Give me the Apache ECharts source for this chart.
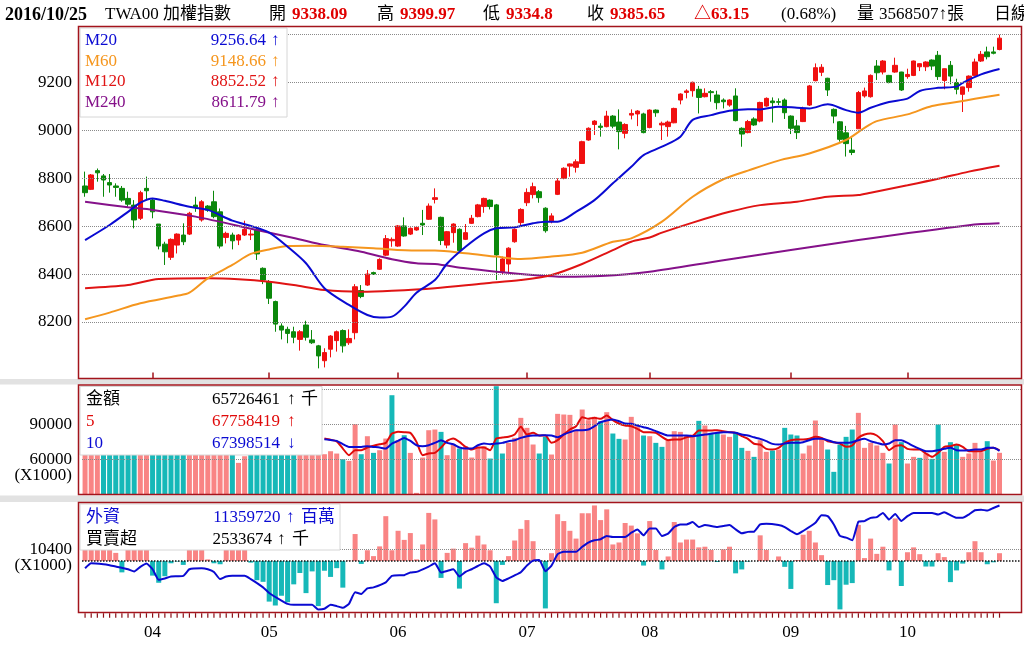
<!DOCTYPE html>
<html><head><meta charset="utf-8">
<script src="https://cdn.jsdelivr.net/npm/echarts@6/dist/echarts.min.js"></script>
<style>html,body{margin:0;padding:0;background:#fff}#c{width:1024px;height:662px}</style>
</head><body><div id="c"></div>
<script>
// ---- trading days (2016) ----
const d03=[17,18,21,22,23,24,25,28,29,30,31];
const d04=[1,6,7,8,11,12,13,14,15,18,19,20,21,22,25,26,27,28,29];
const d05=[3,4,5,6,9,10,11,12,13,16,17,18,19,20,23,24,25,26,27,30,31];
const d06=[1,2,3,4,6,7,8,13,14,15,16,17,20,21,22,23,24,27,28,29,30];
const d07=[1,4,5,6,7,11,12,13,14,15,18,19,20,21,22,25,26,27,28,29];
const d08=[1,2,3,4,5,8,9,10,11,12,15,16,17,18,19,22,23,24,25,26,29,30,31];
const d09=[1,2,5,6,7,8,9,12,13,14,19,20,21,22,23,26,28,29,30];
const d10=[3,4,5,6,7,11,12,13,14,17,18,19,20,21,24,25];

// ---- price candles ----
const opens=[8768,8754,8832,8810,8782,8768,8758,8716,8688,8633, 8758,8709,8609,8525,8470,8521,8563,8567,8688,8626,
 8684,8702,8660,8553,8563,8542,8563,8563,8587,8424, 8368,8285,8183,8169,8159,8127,8187,8125,8100,8038,
 8086,8122,8164,8113,8155,8331,8354,8406,8420,8479, 8539,8517,8601,8567,8584,8612,8629,8712,8637,8521,
 8573,8587,8545,8612,8640,8682,8709,8689,8407,8442, 8535,8615,8698,8732,8744,8675,8619,8733,8800,8851,
 8846,8862,8960,9025,9018,9016,9060,9035,8988,9064, 9069,9069,9012,9085,9023,9016,9032,9127,9159,9166,
 9172,9141,9162,9148,9127,9106,9144,9009,8991,9048, 9039,9102,9123,9120,9127,9060,9019,9037,9106,9208,
 9243,9218,9088,9036,8990,8918,9007,9144,9141,9269, 9244,9230,9244,9244,9225,9230,9266,9266,9294,9314,
 9209,9272,9200,9151,9179,9230,9290,9328,9328,9338.09];
const closes=[8740,8814,8823,8793,8772,8762,8709,8692,8626,8740, 8748,8660,8517,8493,8545,8567,8535,8654,8679,8702,
 8667,8640,8517,8570,8539,8563,8587,8567,8484,8375, 8299,8191,8166,8152,8136,8159,8136,8113,8058,8072,
 8141,8159,8100,8131,8347,8306,8400,8400,8461,8548, 8545,8601,8559,8591,8595,8605,8684,8719,8540,8577,
 8609,8498,8573,8633,8689,8716,8682,8480,8463,8508, 8587,8670,8741,8765,8719,8581,8643,8789,8842,8860,
 8869,8953,9009,9039,9013,9060,9018,8995,9025,9071, 9081,8991,9085,9074,9030,9035,9092,9152,9165,9201,
 9138,9155,9158,9116,9120,9127,9041,8985,9037,9023, 9117,9134,9116,9118,9074,9009,8991,9092,9186,9262,
 9264,9169,9060,8963,8945,8908,9158,9165,9230,9241, 9290,9200,9272,9169,9234,9290,9279,9286,9269,9225,
 9258,9227,9172,9182,9227,9286,9318,9308,9322.5,9385.65];
const lows=[8723,8751,8786,8723,8740,8723,8702,8681,8591,8626, 8709,8633,8503,8438,8459,8486,8521,8563,8660,8619,
 8660,8633,8507,8528,8503,8521,8559,8542,8459,8358, 8275,8159,8127,8111,8111,8080,8122,8108,8006,8010,
 8052,8076,8072,8104,8127,8299,8350,8396,8417,8475, 8514,8514,8556,8563,8581,8563,8626,8695,8521,8508,
 8531,8489,8542,8609,8637,8656,8670,8375,8396,8403, 8531,8598,8684,8716,8698,8573,8612,8730,8796,8807,
 8824,8860,8957,8981,8974,9013,9009,8921,8967,9046, 9018,8988,9009,9057,8960,8974,9030,9109,9134,9141,
 9071,9138,9120,9088,9092,9099,9038,8932,8988,9019, 9034,9099,9033,9106,9048,8985,8964,9035,9102,9205,
 9227,9144,9030,8953,8891,8897,9007,9137,9137,9211, 9234,9197,9241,9165,9216,9227,9248,9248,9252,9211,
 9172,9193,9151,9077,9162,9227,9286,9297,9318,9334.8];
const highs=[8828,8818,8841,8818,8818,8779,8768,8744,8709,8748, 8807,8716,8609,8535,8549,8570,8612,8660,8723,8709,
 8688,8748,8674,8577,8573,8567,8623,8584,8595,8428, 8375,8289,8194,8180,8180,8166,8205,8166,8104,8090,
 8145,8164,8169,8169,8358,8354,8417,8410,8466,8563, 8553,8605,8637,8595,8601,8668,8695,8758,8640,8580,
 8612,8591,8609,8647,8693,8719,8712,8693,8473,8512, 8591,8675,8758,8782,8751,8679,8654,8800,8846,8862,
 8879,8957,9013,9043,9030,9082,9064,9088,9030,9088, 9085,9074,9088,9088,9037,9041,9095,9155,9172,9204,
 9186,9176,9169,9166,9134,9130,9176,9013,9044,9055, 9120,9138,9138,9134,9134,9063,9044,9099,9190,9280,
 9277,9220,9092,9039,9019,8970,9165,9179,9234,9294, 9294,9232,9304,9245,9258,9292,9280,9289,9297,9332,
 9259,9290,9216,9183,9230,9300,9332,9350,9350,9399.97];

// ---- price moving averages, [day index, value] ----
const ma20=[[0,8542],[4,8605],[7,8660],[9,8698],[11,8716],[13,8706],[17,8681],[20,8668],[24,8623],[27,8601],[30,8573],[33,8514],[36,8445],[39,8341],[43,8271],[46,8229],[48,8218],[50,8222],[52,8264],[54,8322],[57,8375],[59,8444],[62,8514],[65,8570],[67,8591],[70,8595],[73,8612],[75,8619],[77,8619],[80,8660],[83,8709],[86,8779],[89,8848],[91,8897],[94,8932],[97,8974],[99,9044],[102,9064],[105,9082],[108,9089],[110,9088],[113,9099],[116,9095],[118,9092],[121,9109],[124,9085],[126,9074],[128,9095],[131,9119],[134,9133],[136,9165],[139,9178],[142,9183],[143,9199],[146,9234],[149,9256.64]];
const ma60=[[0,8211],[4,8239],[9,8278],[15,8309],[17,8322],[20,8382],[24,8438],[27,8484],[30,8503],[33,8517],[37,8518],[42,8514],[47,8508],[54,8498],[57,8498],[62,8487],[67,8473],[71,8463],[76,8473],[81,8489],[86,8535],[89,8549],[94,8619],[99,8723],[104,8796],[108,8832],[113,8874],[118,8904],[124,8960],[127,9011],[129,9039],[134,9067],[138,9102],[142,9119],[145,9132],[149,9148.66]];
const ma120=[[0,8341],[7,8354],[12,8379],[20,8382],[25,8378],[30,8368],[34,8354],[39,8333],[45,8326],[50,8330],[57,8341],[65,8361],[71,8375],[76,8396],[81,8442],[86,8500],[89,8535],[92,8553],[94,8573],[99,8615],[105,8660],[110,8688],[116,8702],[121,8723],[126,8730],[128,8740],[134,8771],[139,8798],[144,8828],[149,8852.52]];
const ma240=[[0,8702],[7,8679],[11,8668],[18,8640],[28,8584],[34,8551],[39,8521],[45,8493],[50,8462],[54,8445],[57,8442],[62,8424],[67,8410],[73,8396],[78,8389],[84,8392],[92,8410],[104,8458],[126,8542],[144,8604],[149,8611.79]];

// ---- turnover (x1000) ----
const volume=[78000,82000,75000,72000,70000,76000,85000,80000,88000,79000, 74000,83000,90000,86000,84000,77000,73000,81000,79000,75000,
 72000,78000,87000,80000,76000,57100,62800,71000,84000,90000, 92000,88000,80000,76000,79000,86000,82000,78000,81000,64534,
 67100,65100,60250,58820,90250,64534,79960,65680,67960,77960, 115100,76530,80820,65680,31400,61680,85100,85680,83680,63680,
 73100,69390,71390,61680,70820,71390,60820,122820,65130,74270, 78560,95700,87130,72850,65130,79420,64270,99130,98560,98270,
 85700,102840,93700,96560,92840,100560,82270,77700,77130,96560, 88560,80560,79990,74270,70840,77130,84270,83700,80560,81420,
 93130,89130,82840,82840,81420,79420,83420,69990,67420,62270, 76560,66560,67700,68560,87130,81420,80560,65130,71990,93420,
 78560,68560,49420,72850,79420,85700,99990,69990,74270,71990, 65700,56560,89990,74850,56560,62270,61420,65130,60560,89990,
 66560,74850,72850,62270,65130,74270,66270,75700,59130,65726];
const volColor=('rrrgggggg'+'rrgggggg'+'rrrrrrrg'+'rrgggggggg'+'rrrrrrrg'+'rrgrgrrgrg'+'rrrrrgrrg'+'rrrrgggrrrrr'+'ggrrrrrrrr'+'grggrrrg'+'rggrrrrrgr'+'ggrrggrgrrg'+'rgggrrrrggggg'+'rrrrrgrgrrgr'+'ggrggrrrrgrr').split('');
const volMaStart=39;
const volMa5=[77960,77000,75500,69390,63680,67960,67960,70250,71800,73100, 74250,82250,83680,83390,82820,75110,63680,65100,65680,70250,
 75960,77960,75110,70820,68530,70250,70250,67960,77960,78820, 79420,81420,87990,81420,82840,80560,80560,74270,76560,81420,
 85700,88560,96270,94840,95700,94840,97700,93700,90840,89130, 88560,86270,83420,83420,82840,79420,76560,77130,77130,79130,
 79990,84840,84840,84840,85130,84270,83420,82840,79990,77700, 73500,72850,69130,68560,69990,74270,76560,77130,77130,77700,
 79420,78560,75700,74850,73700,70840,71990,78560,81420,82270, 80560,75700,67990,71420,72270,69130,68560,68560,65130,62270,
 65700,70840,71420,72850,70840,67130,67130,67130,69130,69990, 67758];
const volMa10=[77390,76700,75960,73100,70820,70820,70820,71390,70800,70250, 69390,73680,75960,78530,75960,72250,71390,72250,74250,76530,
 74250,73100,70250,69390,69390,72250,73680,73100,73680,74250, 75700,76560,78560,79990,80560,80560,80850,80560,79130,81420,
 83420,85130,85130,85700,88560,91990,93420,94270,92840,90840, 90560,89130,87700,86270,84270,82270,80560,80560,80560,80560,
 79990,80560,81420,81990,82840,83420,83420,82840,81420,80560, 79000,77700,75700,73420,72850,73700,74270,74270,74850,76560,
 77700,77700,76560,74850,74270,74270,74850,76560,77700,75700, 74270,72850,73700,76560,76560,74270,71420,69130,67130,67130,
 67990,69130,69990,67990,67700,67990,68560,68560,69990,69990, 67398];

// ---- foreign investors: net buy/sell (x1000) and holdings line ----
const foreignNet=[14000,16000,13000,15000,12000,7400,-10370,13000,15000,12000, 14000,-13330,-19850,-13900,-2070,-500,-3560,12000,14000,11000,
 1480,-2070,-2960,13000,12000,14000,11000,-1500,-17500,-19000, -37040,-40600,-31700,-37600,-21300,-10960,-29300,-9480,-41150,-8890,
 -14520,-6520,-24300,500,24600,-2670,9800,4450,13330,40900, 9800,27560,19260,25480,1480,15110,43870,37940,-15410,7410,
 11260,-25190,16300,12150,23130,15110,9800,-38520,-3560,4450, 18690,29330,37330,18070,0,-43260,7110,42670,36440,27560,
 20440,43560,43560,50670,37330,47110,15110,16890,34670,32300, 25190,-4150,36440,10070,-7700,4150,35560,16890,19560,19560,
 12440,13040,10070,-890,10670,13040,-11260,-7700,-600,0, 23410,10070,0,4150,-5330,-25480,890,24000,27560,16890,
 5330,-21930,-17480,-44150,-21630,-20150,32890,2670,20440,6520, 13040,-8590,38810,-22810,8000,12440,6220,-5040,-5040,7110,
 3560,-19260,-8590,-2370,8000,18070,8000,-2960,-1190,7110];
const foreignHold=[[0,10515800],[1,10582300],[3,10569000],[4,10555700],[5,10538400],[7,10502500],[8,10472000],[9,10533100],[10,10578300],[11,10502500],[12,10360300],[13,10378900],[14,10405500],[16,10413500],[17,10502500],[19,10515800],[20,10502500],[21,10466600],[22,10369600],[23,10405500],[24,10413500],[26,10413500],[27,10369600],[29,10259200],[30,10183500],[32,10081100],[33,10037200],[34,10023900],[37,10023900],[38,9961400],[39,9970800],[40,10023900],[41,10006600],[42,9984000],[43,10037200],[44,10192800],[45,10170200],[46,10246000],[47,10259200],[49,10325700],[50,10413500],[52,10422800],[53,10458700],[54,10466600],[56,10538400],[57,10582300],[58,10458700],[59,10480000],[60,10502500],[61,10405500],[62,10466600],[63,10502500],[64,10546400],[65,10582300],[66,10538400],[67,10392200],[68,10345000],[69,10380000],[70,10420000],[71,10462700],[72,10551800],[73,10618200],[74,10626200],[75,10475900],[76,10551800],[77,10706000],[78,10737900],[80,10737900],[81,10804300],[82,10861500],[83,10892100],[84,10905400],[85,10950600],[86,10937300],[88,10937300],[89,10994400],[90,11038500],[91,10958600],[92,11051700],[93,11051700],[94,10950600],[95,10981200],[96,11070200],[97,11104800],[98,11104800],[99,11136700],[100,11070200],[101,11096800],[103,11070200],[104,11083500],[105,11096800],[106,11038500],[107,10985400],[108,11005000],[109,11007800],[110,11104800],[111,11114100],[113,11096800],[114,11070200],[115,11017000],[116,10971900],[117,11017000],[119,11127400],[120,11229800],[121,11216500],[122,11104800],[123,10950600],[124,10928000],[125,10892100],[126,11140700],[127,11150000],[128,11193900],[129,11203200],[130,11260400],[131,11171300],[132,11247100],[133,11150000],[134,11216500],[135,11260400],[137,11260400],[138,11260400],[139,11237800],[140,11269700],[141,11229800],[142,11193900],[143,11193900],[144,11237800],[145,11296300],[146,11304300],[147,11291000],[148,11326800],[149,11359720]];

// ---- tick values ----
const priceGrid=[8200,8400,8600,8800,9000,9200,9400];
const priceLabels=[8200,8400,8600,8800,9000,9200];
const volGrid=[60000,90000,120000];
const volLabels=[60000,90000];
const foreignLabel=10400;

// ---- build ----
const months=[['03',d03],['04',d04],['05',d05],['06',d06],['07',d07],['08',d08],['09',d09],['10',d10]];
const dates=[]; const monthStart={};
months.forEach(([m,ds])=>{ds.forEach((d,k)=>{ if(k===0&&m!=='03') monthStart[dates.length]=m; dates.push('2016/'+m+'/'+String(d).padStart(2,'0'));});});
const N=dates.length;
const cats=dates.concat(['','','']);
const FONT='"Liberation Serif","Noto Sans CJK TC",serif';
const UP='#f01010', DN='#0b880b', PINK='#f98484', TEAL='#16b8b8', FRAME='#a3141c';
const isStart=(i)=>monthStart[i]!==undefined;
const withStart=(arr)=>{const out=[];arr.forEach((v,k)=>out.push([volMaStart+k,v]));return out;};

function T(x,y,text,color,o){o=o||{};return {type:'text',z:120,x:x,y:y,style:{text:text,fill:color||'#000',
  font:(o.bold?'bold ':'')+(o.size||17)+'px '+FONT,textAlign:o.align||'left',textVerticalAlign:'middle',align:o.align||'left',verticalAlign:'middle'}};}
function R(x,y,w,h,fill,stroke,lw,z){return {type:'rect',z:z,shape:{x:x,y:y,width:w,height:h},style:{fill:fill,stroke:stroke,lineWidth:lw||0}};}

const gridLine=(xi,yi,vals,color,w)=>({type:'line',xAxisIndex:xi,yAxisIndex:yi,data:[],symbol:'none',silent:true,z:1,
  markLine:{silent:true,symbol:['none','none'],label:{show:false},animation:false,
  lineStyle:{type:'dotted',color:color,width:w||1},data:vals.map(v=>({yAxis:v}))}});

const maLine=(data,color,xi,yi,extra)=>Object.assign({type:'line',xAxisIndex:xi,yAxisIndex:yi,data:data,symbol:'none',showSymbol:false,
  smooth:0.3,lineStyle:{color:color,width:2},itemStyle:{color:color},z:4,silent:true,clip:false},extra||{});

const grids=[{left:82,right:3,top:34.7,height:335.1},{left:82,right:3,top:386,height:108.5},{left:82,right:3,top:504,height:102.6},
  {left:82,right:3,top:613.2,height:4.5}];

const option={
 animation:false,
 backgroundColor:'#fff',
 grid:grids,
 xAxis:[
  {type:'category',gridIndex:0,data:cats,boundaryGap:true,offset:8.7,axisLine:{show:false},
   axisTick:{show:true,inside:true,length:6,alignWithLabel:true,interval:(i)=>isStart(i),lineStyle:{color:FRAME,width:1.5}},
   axisLabel:{show:false},splitLine:{show:false}},
  {type:'category',gridIndex:1,data:cats,boundaryGap:true,show:false},
  {type:'category',gridIndex:2,data:cats,boundaryGap:true,offset:5.7,axisLine:{show:false},
   axisTick:{show:false},
   axisLabel:{show:true,interval:(i)=>isStart(i),formatter:(v,i)=>monthStart[i]||'',margin:12,color:'#000',fontSize:17,fontFamily:FONT},
   splitLine:{show:false}},
  {type:'category',gridIndex:3,data:cats,boundaryGap:true,show:false}
 ],
 yAxis:[
  {type:'value',gridIndex:0,min:8000,max:9400,interval:200,splitLine:{show:false},axisLine:{show:false},axisTick:{show:false},
   axisLabel:{margin:10,color:'#000',fontSize:17,fontFamily:FONT,formatter:(v)=>priceLabels.indexOf(v)>=0?String(v):''}},
  {type:'value',gridIndex:1,min:30000,max:123000,interval:30000,splitLine:{show:false},axisLine:{show:false},axisTick:{show:false},
   axisLabel:{margin:10,color:'#000',fontSize:17,fontFamily:FONT,formatter:(v)=>volLabels.indexOf(v)>=0?String(v):''}},
  {type:'value',gridIndex:2,min:-41600,max:52000,interval:10400,splitLine:{show:false},axisLine:{show:false},axisTick:{show:false},
   axisLabel:{margin:10,color:'#000',fontSize:17,fontFamily:FONT,
    formatter:(v)=>v===foreignLabel?String(v):(v===0?'{b|(X1000)}':''),
    rich:{b:{fontSize:17,fontFamily:FONT,color:'#000',padding:[9,0,0,0]}}}},
  {type:'value',gridIndex:2,min:10000000,max:11380000,show:false,splitLine:{show:false}},
  {type:'value',gridIndex:3,min:0,max:1,show:false,splitLine:{show:false}}
 ],
 series:[
  gridLine(0,0,priceGrid,'#8a8a8a'),
  gridLine(1,1,volGrid,'#8a8a8a'),
  gridLine(2,2,[foreignLabel],'#8a8a8a'),
  {type:'candlestick',xAxisIndex:0,yAxisIndex:0,barWidth:5,silent:true,z:3,
   data:opens.map((o,i)=>[o,closes[i],lows[i],highs[i]]),
   itemStyle:{color:UP,color0:DN,borderColor:UP,borderColor0:DN,borderWidth:1}},
  maLine(ma240,'#85118a',0,0),
  maLine(ma120,'#e01414',0,0),
  maLine(ma60,'#f5961e',0,0),
  maLine(ma20,'#0a0ad2',0,0),
  {type:'bar',xAxisIndex:1,yAxisIndex:1,barWidth:5,clip:true,silent:true,z:2,
   data:volume.map((v,i)=>({value:v,itemStyle:{color:volColor[i]==='r'?PINK:TEAL}}))},
  maLine(withStart(volMa5),'#e00a0a',1,1,{smooth:0.2}),
  maLine(withStart(volMa10),'#0a0ad2',1,1,{smooth:0.2}),
  {type:'bar',xAxisIndex:2,yAxisIndex:2,barWidth:5,clip:false,silent:true,z:2,
   data:foreignNet.map(v=>({value:v,itemStyle:{color:v>=0?PINK:TEAL}}))},
  gridLine(2,2,[0],'#111',1.5),
  maLine(foreignHold,'#0a0ad2',2,3,{smooth:0.15,z:5}),
  // one small tick per trading day under the bottom panel
  {type:'bar',xAxisIndex:3,yAxisIndex:4,barWidth:1.2,silent:true,data:dates.map(()=>1),itemStyle:{color:'#8a0f16'}}
 ],
 graphic:[
  R(0,379,1024,5.5,'#e2e2e2',null,0,100),
  R(0,495.5,1024,6.5,'#e2e2e2',null,0,100),
  R(80,28,207,89,'#fff','#d6d6d6',1,105),
  R(80,386.5,242,68.5,'#fff','#d6d6d6',1,105),
  R(80,504,260,46,'#fff','#d6d6d6',1,105),
  R(78.5,26.5,943,352,'none',FRAME,1.5,110),
  R(78.5,385,943,109.5,'none',FRAME,1.5,110),
  R(78.5,502.5,943,110,'none',FRAME,1.5,110),
  // header
  T(5,15,'2016/10/25','#000',{bold:true,size:18}),
  T(105,15,'TWA00 加權指數','#000'),
  T(269,15,'開','#000'), T(292,15,'9338.09','#e00000',{bold:true}),
  T(377,15,'高','#000'), T(400,15,'9399.97','#e00000',{bold:true}),
  T(483,15,'低','#000'), T(506,15,'9334.8','#e00000',{bold:true}),
  T(587,15,'收','#000'), T(610,15,'9385.65','#e00000',{bold:true}),
  T(694,15,'△63.15','#e00000',{bold:true}),
  T(781,15,'(0.68%)','#000'),
  T(857,15,'量','#000'), T(879,15,'3568507↑張','#000'),
  T(994,15,'日線','#000'),
  // price legend
  T(85,40.7,'M20','#0a0ad2'), T(266,40.7,'9256.64','#0a0ad2',{align:'right'}), T(271,40.7,'↑','#0a0ad2'),
  T(85,61.7,'M60','#f5961e'), T(266,61.7,'9148.66','#f5961e',{align:'right'}), T(271,61.7,'↑','#f5961e'),
  T(85,82,'M120','#e01414'), T(266,82,'8852.52','#e01414',{align:'right'}), T(271,82,'↑','#e01414'),
  T(85,103,'M240','#85118a'), T(266,103,'8611.79','#85118a',{align:'right'}), T(271,103,'↑','#85118a'),
  // volume legend
  T(86,399.5,'金額','#000'), T(280,399.5,'65726461','#000',{align:'right'}), T(287,399.5,'↑','#000'), T(301,399.5,'千','#000'),
  T(86,421.7,'5','#e00a0a'), T(280,421.7,'67758419','#e00a0a',{align:'right'}), T(287,421.7,'↑','#e00a0a'),
  T(86,443.3,'10','#0a0ad2'), T(280,443.3,'67398514','#0a0ad2',{align:'right'}), T(287,443.3,'↓','#0a0ad2'),
  T(72,475.5,'(X1000)','#000',{align:'right'}),
  // foreign legend
  T(86,517.5,'外資','#0a0ad2'), T(280.5,517.5,'11359720','#0a0ad2',{align:'right'}), T(286,517.5,'↑','#0a0ad2'), T(301,517.5,'百萬','#0a0ad2'),
  T(86,539.5,'買賣超','#000'), T(272,539.5,'2533674','#000',{align:'right'}), T(277,539.5,'↑','#000'), T(292,539.5,'千','#000')
 ]
};
const chart=echarts.init(document.getElementById('c'),null,{renderer:'canvas'});
chart.setOption(option);
</script></body></html>
